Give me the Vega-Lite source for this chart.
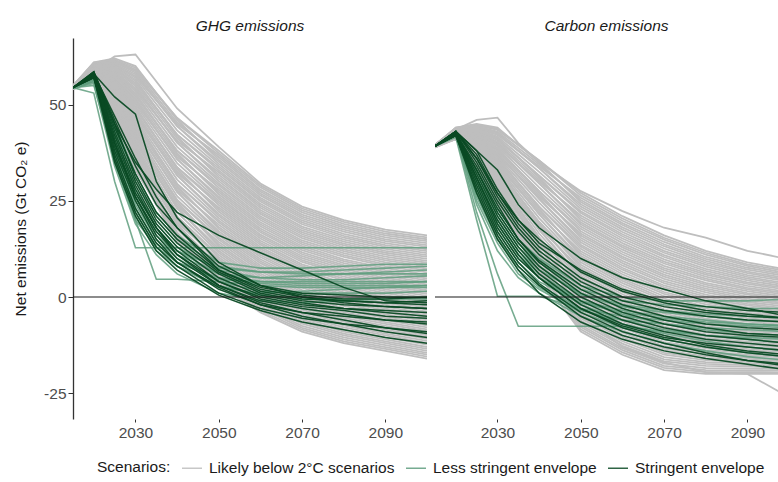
{
"$schema":"https://vega.github.io/schema/vega-lite/v6.json",
"padding":{"left":13,"top":18,"right":0,"bottom":0},
"spacing":6,
"config":{"font":"Liberation Sans","view":{"stroke":null},"mark":{"invalid":"filter"},
"title":{"fontSize":15.5,"fontStyle":"italic","fontWeight":"normal","color":"#1a1a1a","offset":4,"anchor":"middle"},
"axis":{"labelFont":"Liberation Sans","labelFontSize":15.5,"labelColor":"#4d4d4d","titleFont":"Liberation Sans","titleFontSize":15.5,"titleFontWeight":"normal","titleColor":"#1a1a1a","grid":false,"tickColor":"#333333","domainColor":"#333333"},
"legend":{"symbolType":"stroke","symbolSize":400,"symbolStrokeWidth":1.5,"labelFont":"Liberation Sans","titleFont":"Liberation Sans","labelFontSize":15.5,"titleFontSize":15.5,"titleFontWeight":"normal","labelColor":"#1a1a1a","titleColor":"#1a1a1a","columnPadding":8,"labelOffset":6,"titlePadding":10,"labelLimit":300,"titleLimit":200,"titleOrient":"left"}},
"data":{"values":[
{"p":"G","s":"Likely below 2°C scenarios","id":"G0","2015":54.0,"2020":56.0,"2025":46.0,"2030":33.0,"2040":15.1,"2050":5.3,"2060":-1.9,"2070":-6.9,"2080":-10.0,"2090":-12,"2100":-14.0},
{"p":"G","s":"Likely below 2°C scenarios","id":"G1","2015":54.0,"2020":56.2,"2025":46.5,"2030":33.9,"2040":14.5,"2050":3.0,"2060":-4.0,"2070":-9.0,"2080":-12.0,"2090":-14,"2100":-16.0},
{"p":"G","s":"Likely below 2°C scenarios","id":"G2","2015":54.0,"2020":56.3,"2025":47.0,"2030":34.7,"2040":16.7,"2050":6.4,"2060":-0.8,"2070":-5.9,"2080":-9.0,"2090":-11,"2100":-13.0},
{"p":"G","s":"Likely below 2°C scenarios","id":"G3","2015":54.0,"2020":56.5,"2025":47.5,"2030":35.6,"2040":16.1,"2050":4.1,"2060":-2.9,"2070":-8.0,"2080":-11.0,"2090":-13,"2100":-15.0},
{"p":"G","s":"Likely below 2°C scenarios","id":"G4","2015":54.0,"2020":56.6,"2025":48.1,"2030":36.5,"2040":19.3,"2050":9.8,"2060":2.4,"2070":-2.8,"2080":-5.9,"2090":-8,"2100":-9.9},
{"p":"G","s":"Likely below 2°C scenarios","id":"G5","2015":54.0,"2020":56.8,"2025":48.6,"2030":37.4,"2040":18.8,"2050":7.5,"2060":0.3,"2070":-4.9,"2080":-7.9,"2090":-10,"2100":-11.9},
{"p":"G","s":"Likely below 2°C scenarios","id":"G6","2015":54.0,"2020":57.0,"2025":49.1,"2030":38.2,"2040":20.9,"2050":10.9,"2060":3.5,"2070":-1.8,"2080":-4.9,"2090":-7,"2100":-8.9},
{"p":"G","s":"Likely below 2°C scenarios","id":"G7","2015":54.0,"2020":57.1,"2025":49.6,"2030":39.1,"2040":20.4,"2050":8.6,"2060":1.3,"2070":-3.8,"2080":-6.9,"2090":-9,"2100":-10.9},
{"p":"G","s":"Likely below 2°C scenarios","id":"G8","2015":54.3,"2020":57.3,"2025":50.1,"2030":40.0,"2040":23.6,"2050":14.3,"2060":6.7,"2070":1.3,"2080":-1.8,"2090":-4,"2100":-5.8},
{"p":"G","s":"Likely below 2°C scenarios","id":"G9","2015":54.3,"2020":57.4,"2025":50.6,"2030":40.8,"2040":23.1,"2050":12.0,"2060":4.5,"2070":-0.7,"2080":-3.9,"2090":-6,"2100":-7.9},
{"p":"G","s":"Likely below 2°C scenarios","id":"G10","2015":54.3,"2020":57.6,"2025":51.2,"2030":41.7,"2040":25.2,"2050":15.4,"2060":7.7,"2070":2.4,"2080":-0.8,"2090":-3,"2100":-4.8},
{"p":"G","s":"Likely below 2°C scenarios","id":"G11","2015":54.3,"2020":57.8,"2025":51.7,"2030":42.6,"2040":24.7,"2050":13.2,"2060":5.6,"2070":0.3,"2080":-2.9,"2090":-5,"2100":-6.9},
{"p":"G","s":"Likely below 2°C scenarios","id":"G12","2015":54.3,"2020":57.9,"2025":52.2,"2030":43.5,"2040":27.8,"2050":18.8,"2060":10.9,"2070":5.4,"2080":2.2,"2090":0,"2100":-1.8},
{"p":"G","s":"Likely below 2°C scenarios","id":"G13","2015":54.3,"2020":58.1,"2025":52.7,"2030":44.3,"2040":27.3,"2050":16.5,"2060":8.8,"2070":3.4,"2080":0.2,"2090":-2,"2100":-3.8},
{"p":"G","s":"Likely below 2°C scenarios","id":"G14","2015":54.3,"2020":58.3,"2025":53.2,"2030":45.2,"2040":29.4,"2050":19.9,"2060":12.0,"2070":6.5,"2080":3.2,"2090":1,"2100":-0.8},
{"p":"G","s":"Likely below 2°C scenarios","id":"G15","2015":54.3,"2020":58.4,"2025":53.7,"2030":46.1,"2040":28.9,"2050":17.7,"2060":9.8,"2070":4.4,"2080":1.2,"2090":-1,"2100":-2.8},
{"p":"G","s":"Likely below 2°C scenarios","id":"G16","2015":54.6,"2020":58.6,"2025":54.3,"2030":46.9,"2040":32.1,"2050":23.3,"2060":15.2,"2070":9.6,"2080":6.3,"2090":4,"2100":2.3},
{"p":"G","s":"Likely below 2°C scenarios","id":"G17","2015":54.6,"2020":58.7,"2025":54.8,"2030":47.8,"2040":31.6,"2050":21.1,"2060":13.0,"2070":7.5,"2080":4.3,"2090":2,"2100":0.3},
{"p":"G","s":"Likely below 2°C scenarios","id":"G18","2015":54.6,"2020":58.9,"2025":55.3,"2030":48.7,"2040":33.7,"2050":24.5,"2060":16.2,"2070":10.6,"2080":7.3,"2090":5,"2100":3.3},
{"p":"G","s":"Likely below 2°C scenarios","id":"G19","2015":54.6,"2020":59.1,"2025":55.8,"2030":49.5,"2040":33.2,"2050":22.2,"2060":14.1,"2070":8.5,"2080":5.3,"2090":3,"2100":1.3},
{"p":"G","s":"Likely below 2°C scenarios","id":"G20","2015":54.6,"2020":59.2,"2025":56.3,"2030":50.4,"2040":36.4,"2050":27.8,"2060":19.4,"2070":13.7,"2080":10.4,"2090":8,"2100":6.4},
{"p":"G","s":"Likely below 2°C scenarios","id":"G21","2015":54.6,"2020":59.4,"2025":56.8,"2030":51.3,"2040":35.8,"2050":25.6,"2060":17.3,"2070":11.6,"2080":8.3,"2090":6,"2100":4.3},
{"p":"G","s":"Likely below 2°C scenarios","id":"G22","2015":54.6,"2020":59.5,"2025":57.4,"2030":52.2,"2040":38.0,"2050":29.0,"2060":20.5,"2070":14.7,"2080":11.4,"2090":9,"2100":7.4},
{"p":"G","s":"Likely below 2°C scenarios","id":"G23","2015":54.6,"2020":59.7,"2025":57.9,"2030":53.0,"2040":37.4,"2050":26.7,"2060":18.4,"2070":12.7,"2080":9.3,"2090":7,"2100":5.3},
{"p":"G","s":"Likely below 2°C scenarios","id":"G24","2015":54.9,"2020":59.9,"2025":58.4,"2030":53.9,"2040":40.6,"2050":32.4,"2060":23.7,"2070":17.8,"2080":14.4,"2090":12,"2100":10.4},
{"p":"G","s":"Likely below 2°C scenarios","id":"G25","2015":54.9,"2020":60.0,"2025":58.9,"2030":54.8,"2040":40.1,"2050":30.1,"2060":21.6,"2070":15.8,"2080":12.4,"2090":10,"2100":8.4},
{"p":"G","s":"Likely below 2°C scenarios","id":"G26","2015":54.9,"2020":60.2,"2025":59.4,"2030":55.6,"2040":42.2,"2050":33.5,"2060":24.8,"2070":18.9,"2080":15.4,"2090":13,"2100":11.4},
{"p":"G","s":"Likely below 2°C scenarios","id":"G27","2015":54.9,"2020":60.3,"2025":59.9,"2030":56.5,"2040":41.7,"2050":31.2,"2060":22.6,"2070":16.8,"2080":13.4,"2090":11,"2100":9.4},
{"p":"G","s":"Likely below 2°C scenarios","id":"G28","2015":54.9,"2020":60.5,"2025":60.4,"2030":57.4,"2040":44.9,"2050":36.9,"2060":27.9,"2070":22.0,"2080":18.5,"2090":16,"2100":14.5},
{"p":"G","s":"Likely below 2°C scenarios","id":"G29","2015":54.9,"2020":60.7,"2025":61.0,"2030":58.3,"2040":44.4,"2050":34.6,"2060":25.8,"2070":19.9,"2080":16.4,"2090":14,"2100":12.4},
{"p":"G","s":"Likely below 2°C scenarios","id":"G30","2015":54.9,"2020":60.8,"2025":61.5,"2030":59.1,"2040":46.5,"2050":38.0,"2060":29.0,"2070":23.0,"2080":19.5,"2090":17,"2100":15.5},
{"p":"G","s":"Likely below 2°C scenarios","id":"G31","2015":54.9,"2020":61.0,"2025":62.0,"2030":60.0,"2040":46.0,"2050":35.7,"2060":26.9,"2070":20.9,"2080":17.5,"2090":15,"2100":13.5},
{"p":"G","s":"Likely below 2°C scenarios","id":"G32","2015":54.4,"2020":59.0,"2025":62.5,"2030":63.0,"2040":49.0,"2050":39.0,"2060":29.5,"2070":23.5,"2080":20.0,"2090":17.5,"2100":16.0},
{"p":"G","s":"Likely below 2°C scenarios","id":"H0","2015":54.4,"2020":56.1,"2025":46.3,"2030":33.4,"2040":14.5,"2050":3.6,"2060":-3.5,"2070":-8.5,"2080":-11.5,"2090":-13.5,"2100":-15.5},
{"p":"G","s":"Likely below 2°C scenarios","id":"H1","2015":54.4,"2020":56.2,"2025":46.8,"2030":34.3,"2040":15.6,"2050":4.7,"2060":-2.4,"2070":-7.5,"2080":-10.5,"2090":-12.5,"2100":-14.5},
{"p":"G","s":"Likely below 2°C scenarios","id":"H2","2015":54.4,"2020":56.4,"2025":47.3,"2030":35.2,"2040":16.7,"2050":5.8,"2060":-1.3,"2070":-6.4,"2080":-9.5,"2090":-11.5,"2100":-13.5},
{"p":"G","s":"Likely below 2°C scenarios","id":"H3","2015":54.4,"2020":56.6,"2025":47.8,"2030":36.0,"2040":17.7,"2050":7.0,"2060":-0.3,"2070":-5.4,"2080":-8.4,"2090":-10.5,"2100":-12.4},
{"p":"G","s":"Likely below 2°C scenarios","id":"H4","2015":54.4,"2020":56.7,"2025":48.3,"2030":36.9,"2040":18.8,"2050":8.1,"2060":0.8,"2070":-4.4,"2080":-7.4,"2090":-9.5,"2100":-11.4},
{"p":"G","s":"Likely below 2°C scenarios","id":"H5","2015":54.4,"2020":56.9,"2025":48.8,"2030":37.8,"2040":19.9,"2050":9.2,"2060":1.9,"2070":-3.3,"2080":-6.4,"2090":-8.5,"2100":-10.4},
{"p":"G","s":"Likely below 2°C scenarios","id":"H6","2015":54.4,"2020":57.0,"2025":49.4,"2030":38.7,"2040":20.9,"2050":10.3,"2060":2.9,"2070":-2.3,"2080":-5.4,"2090":-7.5,"2100":-9.4},
{"p":"G","s":"Likely below 2°C scenarios","id":"H7","2015":54.4,"2020":57.2,"2025":49.9,"2030":39.5,"2040":22.0,"2050":11.5,"2060":4.0,"2070":-1.3,"2080":-4.4,"2090":-6.5,"2100":-8.4},
{"p":"G","s":"Likely below 2°C scenarios","id":"H8","2015":54.4,"2020":57.4,"2025":50.4,"2030":40.4,"2040":23.1,"2050":12.6,"2060":5.1,"2070":-0.2,"2080":-3.4,"2090":-5.5,"2100":-7.4},
{"p":"G","s":"Likely below 2°C scenarios","id":"H9","2015":54.4,"2020":57.5,"2025":50.9,"2030":41.3,"2040":24.1,"2050":13.7,"2060":6.1,"2070":0.8,"2080":-2.3,"2090":-4.5,"2100":-6.3},
{"p":"G","s":"Likely below 2°C scenarios","id":"H10","2015":54.4,"2020":57.7,"2025":51.4,"2030":42.1,"2040":25.2,"2050":14.9,"2060":7.2,"2070":1.8,"2080":-1.3,"2090":-3.5,"2100":-5.3},
{"p":"G","s":"Likely below 2°C scenarios","id":"H11","2015":54.4,"2020":57.9,"2025":51.9,"2030":43.0,"2040":26.2,"2050":16.0,"2060":8.2,"2070":2.9,"2080":-0.3,"2090":-2.5,"2100":-4.3},
{"p":"G","s":"Likely below 2°C scenarios","id":"H12","2015":54.4,"2020":58.0,"2025":52.5,"2030":43.9,"2040":27.3,"2050":17.1,"2060":9.3,"2070":3.9,"2080":0.7,"2090":-1.5,"2100":-3.3},
{"p":"G","s":"Likely below 2°C scenarios","id":"H13","2015":54.4,"2020":58.2,"2025":53.0,"2030":44.8,"2040":28.4,"2050":18.2,"2060":10.4,"2070":4.9,"2080":1.7,"2090":-0.5,"2100":-2.3},
{"p":"G","s":"Likely below 2°C scenarios","id":"H14","2015":54.4,"2020":58.3,"2025":53.5,"2030":45.6,"2040":29.4,"2050":19.4,"2060":11.4,"2070":6.0,"2080":2.7,"2090":0.5,"2100":-1.3},
{"p":"G","s":"Likely below 2°C scenarios","id":"H15","2015":54.4,"2020":58.5,"2025":54.0,"2030":46.5,"2040":30.5,"2050":20.5,"2060":12.5,"2070":7.0,"2080":3.7,"2090":1.5,"2100":-0.3},
{"p":"G","s":"Likely below 2°C scenarios","id":"H16","2015":54.4,"2020":58.7,"2025":54.5,"2030":47.4,"2040":31.6,"2050":21.6,"2060":13.6,"2070":8.0,"2080":4.8,"2090":2.5,"2100":0.8},
{"p":"G","s":"Likely below 2°C scenarios","id":"H17","2015":54.4,"2020":58.8,"2025":55.0,"2030":48.2,"2040":32.6,"2050":22.8,"2060":14.6,"2070":9.1,"2080":5.8,"2090":3.5,"2100":1.8},
{"p":"G","s":"Likely below 2°C scenarios","id":"H18","2015":54.4,"2020":59.0,"2025":55.5,"2030":49.1,"2040":33.7,"2050":23.9,"2060":15.7,"2070":10.1,"2080":6.8,"2090":4.5,"2100":2.8},
{"p":"G","s":"Likely below 2°C scenarios","id":"H19","2015":54.4,"2020":59.1,"2025":56.1,"2030":50.0,"2040":34.8,"2050":25.0,"2060":16.8,"2070":11.1,"2080":7.8,"2090":5.5,"2100":3.8},
{"p":"G","s":"Likely below 2°C scenarios","id":"H20","2015":54.4,"2020":59.3,"2025":56.6,"2030":50.9,"2040":35.8,"2050":26.1,"2060":17.8,"2070":12.2,"2080":8.8,"2090":6.5,"2100":4.8},
{"p":"G","s":"Likely below 2°C scenarios","id":"H21","2015":54.4,"2020":59.5,"2025":57.1,"2030":51.7,"2040":36.9,"2050":27.3,"2060":18.9,"2070":13.2,"2080":9.8,"2090":7.5,"2100":5.8},
{"p":"G","s":"Likely below 2°C scenarios","id":"H22","2015":54.4,"2020":59.6,"2025":57.6,"2030":52.6,"2040":38.0,"2050":28.4,"2060":20.0,"2070":14.2,"2080":10.9,"2090":8.5,"2100":6.9},
{"p":"G","s":"Likely below 2°C scenarios","id":"H23","2015":54.4,"2020":59.8,"2025":58.1,"2030":53.5,"2040":39.0,"2050":29.5,"2060":21.0,"2070":15.3,"2080":11.9,"2090":9.5,"2100":7.9},
{"p":"G","s":"Likely below 2°C scenarios","id":"H24","2015":54.4,"2020":59.9,"2025":58.6,"2030":54.3,"2040":40.1,"2050":30.7,"2060":22.1,"2070":16.3,"2080":12.9,"2090":10.5,"2100":8.9},
{"p":"G","s":"Likely below 2°C scenarios","id":"H25","2015":54.4,"2020":60.1,"2025":59.2,"2030":55.2,"2040":41.2,"2050":31.8,"2060":23.2,"2070":17.3,"2080":13.9,"2090":11.5,"2100":9.9},
{"p":"G","s":"Likely below 2°C scenarios","id":"H26","2015":54.4,"2020":60.3,"2025":59.7,"2030":56.1,"2040":42.2,"2050":32.9,"2060":24.2,"2070":18.3,"2080":14.9,"2090":12.5,"2100":10.9},
{"p":"G","s":"Likely below 2°C scenarios","id":"H27","2015":54.4,"2020":60.4,"2025":60.2,"2030":57.0,"2040":43.3,"2050":34.0,"2060":25.3,"2070":19.4,"2080":15.9,"2090":13.5,"2100":11.9},
{"p":"G","s":"Likely below 2°C scenarios","id":"H28","2015":54.4,"2020":60.6,"2025":60.7,"2030":57.8,"2040":44.4,"2050":35.2,"2060":26.4,"2070":20.4,"2080":17.0,"2090":14.5,"2100":13.0},
{"p":"G","s":"Likely below 2°C scenarios","id":"H29","2015":54.4,"2020":60.8,"2025":61.2,"2030":58.7,"2040":45.4,"2050":36.3,"2060":27.4,"2070":21.4,"2080":18.0,"2090":15.5,"2100":14.0},
{"p":"G","s":"Likely below 2°C scenarios","id":"H30","2015":54.4,"2020":60.9,"2025":61.7,"2030":59.6,"2040":46.5,"2050":37.4,"2060":28.5,"2070":22.5,"2080":19.0,"2090":16.5,"2100":15.0},
{"p":"G","s":"Less stringent envelope","id":"L1","2015":54.4,"2020":57.5,"2025":40,"2030":25,"2035":16,"2040":11,"2050":6,"2060":5,"2070":5.5,"2080":6,"2090":6.5,"2100":7},
{"p":"G","s":"Less stringent envelope","id":"L2","2015":54.4,"2020":56.5,"2025":35,"2030":20,"2035":13,"2040":9,"2050":5,"2060":3.5,"2070":3,"2080":3,"2090":3,"2100":3},
{"p":"G","s":"Less stringent envelope","id":"L3","2015":54.4,"2020":57,"2025":42,"2030":28,"2035":19,"2040":13,"2050":7,"2060":5,"2070":4.5,"2080":4.5,"2090":5,"2100":5.5},
{"p":"G","s":"Less stringent envelope","id":"L4","2015":54.4,"2020":53,"2025":30,"2030":12.8,"2035":12.8,"2040":12.8,"2050":12.8,"2060":12.8,"2070":12.8,"2080":12.8,"2090":12.8,"2100":12.8},
{"p":"G","s":"Less stringent envelope","id":"L5","2015":54.4,"2020":55,"2025":36,"2030":20,"2035":4.6,"2040":4.6,"2050":4,"2060":3,"2070":2.5,"2080":2.5,"2090":2.5,"2100":2.5},
{"p":"G","s":"Less stringent envelope","id":"L6","2015":54.4,"2020":57,"2025":39,"2030":24,"2035":15,"2040":10,"2050":4,"2060":1.5,"2070":1,"2080":1,"2090":1,"2100":1.5},
{"p":"G","s":"Less stringent envelope","id":"L7","2015":54.4,"2020":56,"2025":37,"2030":22,"2035":13,"2040":8,"2050":3,"2060":0.5,"2070":-0.5,"2080":-0.5,"2090":0,"2100":0},
{"p":"G","s":"Less stringent envelope","id":"L8","2015":54.4,"2020":57.5,"2025":44,"2030":30,"2035":21,"2040":15,"2050":8,"2060":6.5,"2070":6.5,"2080":7,"2090":7.5,"2100":8},
{"p":"G","s":"Less stringent envelope","id":"L9","2015":54.4,"2020":56.5,"2025":41,"2030":26,"2035":17,"2040":12,"2050":7.5,"2060":6.5,"2070":6,"2080":6,"2090":6,"2100":6},
{"p":"G","s":"Less stringent envelope","id":"L10","2015":54.4,"2020":57,"2025":36,"2030":21,"2035":12,"2040":8,"2050":2.5,"2060":1,"2070":1.5,"2080":2,"2090":2.5,"2100":3},
{"p":"G","s":"Less stringent envelope","id":"L11","2015":54.4,"2020":55.5,"2025":34,"2030":19,"2035":11,"2040":6,"2050":1,"2060":-1,"2070":-1.5,"2080":-1,"2090":-0.5,"2100":-0.5},
{"p":"G","s":"Less stringent envelope","id":"L12","2015":54.4,"2020":58,"2025":45,"2030":32,"2035":22,"2040":16,"2050":9,"2060":7.5,"2070":7.5,"2080":8,"2090":8.5,"2100":8.5},
{"p":"G","s":"Less stringent envelope","id":"L13","2015":54.4,"2020":56,"2025":38,"2030":23,"2035":14,"2040":9,"2050":4.5,"2060":4,"2070":4,"2080":4,"2090":4,"2100":4},
{"p":"G","s":"Less stringent envelope","id":"L14","2015":54.4,"2020":57,"2025":43,"2030":27,"2035":18,"2040":12,"2050":6,"2060":4,"2070":3.5,"2080":3.5,"2090":3.5,"2100":4},
{"p":"G","s":"Stringent envelope","id":"D1","2015":54.4,"2020":58,"2025":44,"2030":32,"2035":22,"2040":16,"2050":7,"2060":2,"2070":0,"2080":-1,"2090":-1.5,"2100":-2},
{"p":"G","s":"Stringent envelope","id":"D2","2015":54.4,"2020":57.5,"2025":40,"2030":27,"2035":18,"2040":12,"2050":4,"2060":0,"2070":-2,"2080":-3,"2090":-3.5,"2100":-4},
{"p":"G","s":"Stringent envelope","id":"D3","2015":54.4,"2020":58.5,"2025":46,"2030":34,"2035":24,"2040":18,"2050":8,"2060":3,"2070":1,"2080":0.5,"2090":0,"2100":-0.2},
{"p":"G","s":"Stringent envelope","id":"D4","2015":54.4,"2020":57,"2025":38,"2030":25,"2035":15,"2040":9,"2050":2,"2060":-2,"2070":-4,"2080":-5,"2090":-6,"2100":-6.5},
{"p":"G","s":"Stringent envelope","id":"D5","2015":54.4,"2020":58,"2025":42,"2030":29,"2035":19,"2040":13,"2050":5,"2060":0.5,"2070":-1.5,"2080":-3,"2090":-4,"2100":-5},
{"p":"G","s":"Stringent envelope","id":"D6","2015":54.4,"2020":57.5,"2025":36,"2030":22,"2035":13,"2040":8,"2050":1,"2060":-3,"2070":-5.5,"2080":-7,"2090":-8,"2100":-9},
{"p":"G","s":"Stringent envelope","id":"D7","2015":54.4,"2020":58,"2025":52,"2030":47.5,"2035":30,"2040":20.6,"2050":9,"2060":3,"2070":0,"2080":-1.5,"2090":-2.5,"2100":-3},
{"p":"G","s":"Stringent envelope","id":"D8","2015":54.4,"2020":58.5,"2025":45,"2030":35,"2035":28,"2040":22,"2050":16,"2060":11.5,"2070":7,"2080":2.5,"2090":-1,"2100":-1.5},
{"p":"G","s":"Stringent envelope","id":"D9","2015":54.4,"2020":57,"2025":39,"2030":26,"2035":16,"2040":10,"2050":3,"2060":-1,"2070":-3,"2080":-4.5,"2090":-6,"2100":-7},
{"p":"G","s":"Stringent envelope","id":"D10","2015":54.4,"2020":58,"2025":43,"2030":30,"2035":20,"2040":14,"2050":6,"2060":1,"2070":-1,"2080":-2,"2090":-2.5,"2100":-3},
{"p":"G","s":"Stringent envelope","id":"D11","2015":54.4,"2020":57.5,"2025":37,"2030":23,"2035":14,"2040":9,"2050":2.5,"2060":-2,"2070":-5,"2080":-7,"2090":-9,"2100":-10.5},
{"p":"G","s":"Stringent envelope","id":"D12","2015":54.4,"2020":58.5,"2025":41,"2030":28,"2035":18,"2040":11,"2050":3,"2060":-1.5,"2070":-4,"2080":-6,"2090":-8,"2100":-9.5},
{"p":"G","s":"Stringent envelope","id":"D13","2015":54.4,"2020":57,"2025":35,"2030":21,"2035":12,"2040":7,"2050":0.5,"2060":-3.5,"2070":-6.5,"2080":-8.5,"2090":-10.5,"2100":-12},
{"p":"G","s":"Stringent envelope","id":"D14","2015":54.4,"2020":58,"2025":45,"2030":31,"2035":21,"2040":15,"2050":6.5,"2060":1.5,"2070":-0.5,"2080":-1,"2090":-1.5,"2100":-1},
{"p":"G","s":"Stringent envelope","id":"D15","2015":54.4,"2020":57.5,"2025":40,"2030":26,"2035":17,"2040":11,"2050":4,"2060":-0.5,"2070":-2.5,"2080":-3.5,"2090":-5,"2100":-5.5},
{"p":"G","s":"Stringent envelope","id":"D16","2015":54.4,"2020":58,"2025":47,"2030":36,"2035":26,"2040":18,"2050":7,"2060":2.5,"2070":0.5,"2080":-0.5,"2090":-0.5,"2100":0},
{"p":"C","s":"Likely below 2°C scenarios","id":"C0","2015":38.9,"2020":41.0,"2025":33.0,"2030":24.0,"2040":6.0,"2050":-6.7,"2060":-12.7,"2070":-16.7,"2080":-17.9,"2090":-18.1,"2100":-18.3},
{"p":"C","s":"Likely below 2°C scenarios","id":"C1","2015":38.9,"2020":41.1,"2025":33.4,"2030":24.6,"2040":5.5,"2050":-9.0,"2060":-15.0,"2070":-19.0,"2080":-20.0,"2090":-20.0,"2100":-20.0},
{"p":"C","s":"Likely below 2°C scenarios","id":"C2","2015":38.9,"2020":41.2,"2025":33.8,"2030":25.3,"2040":7.5,"2050":-5.5,"2060":-11.5,"2070":-15.6,"2080":-16.9,"2090":-17.2,"2100":-17.4},
{"p":"C","s":"Likely below 2°C scenarios","id":"C3","2015":38.9,"2020":41.3,"2025":34.2,"2030":25.9,"2040":7.0,"2050":-7.8,"2060":-13.8,"2070":-17.9,"2080":-19.0,"2090":-19.1,"2100":-19.1},
{"p":"C","s":"Likely below 2°C scenarios","id":"C4","2015":38.9,"2020":41.4,"2025":34.5,"2030":26.6,"2040":10.0,"2050":-2.0,"2060":-8.0,"2070":-12.2,"2080":-13.8,"2090":-14.4,"2100":-14.8},
{"p":"C","s":"Likely below 2°C scenarios","id":"C5","2015":38.9,"2020":41.5,"2025":34.9,"2030":27.2,"2040":9.5,"2050":-4.4,"2060":-10.4,"2070":-14.5,"2080":-15.9,"2090":-16.3,"2100":-16.5},
{"p":"C","s":"Likely below 2°C scenarios","id":"C6","2015":38.9,"2020":41.6,"2025":35.3,"2030":27.9,"2040":11.5,"2050":-0.9,"2060":-6.9,"2070":-11.1,"2080":-12.8,"2090":-13.5,"2100":-13.9},
{"p":"C","s":"Likely below 2°C scenarios","id":"C7","2015":38.9,"2020":41.7,"2025":35.7,"2030":28.5,"2040":11.0,"2050":-3.2,"2060":-9.2,"2070":-13.4,"2080":-14.8,"2090":-15.3,"2100":-15.6},
{"p":"C","s":"Likely below 2°C scenarios","id":"C8","2015":39.1,"2020":41.8,"2025":36.1,"2030":29.2,"2040":14.0,"2050":2.6,"2060":-3.4,"2070":-7.7,"2080":-9.7,"2090":-10.7,"2100":-11.3},
{"p":"C","s":"Likely below 2°C scenarios","id":"C9","2015":39.1,"2020":41.9,"2025":36.5,"2030":29.8,"2040":13.5,"2050":0.3,"2060":-5.7,"2070":-10.0,"2080":-11.7,"2090":-12.5,"2100":-13.0},
{"p":"C","s":"Likely below 2°C scenarios","id":"C10","2015":39.1,"2020":42.0,"2025":36.9,"2030":30.5,"2040":15.5,"2050":3.8,"2060":-2.2,"2070":-6.6,"2080":-8.6,"2090":-9.7,"2100":-10.4},
{"p":"C","s":"Likely below 2°C scenarios","id":"C11","2015":39.1,"2020":42.1,"2025":37.3,"2030":31.1,"2040":15.0,"2050":1.4,"2060":-4.6,"2070":-8.8,"2080":-10.7,"2090":-11.6,"2100":-12.2},
{"p":"C","s":"Likely below 2°C scenarios","id":"C12","2015":39.1,"2020":42.2,"2025":37.6,"2030":31.7,"2040":18.0,"2050":7.3,"2060":1.3,"2070":-3.2,"2080":-5.6,"2090":-6.9,"2100":-7.8},
{"p":"C","s":"Likely below 2°C scenarios","id":"C13","2015":39.1,"2020":42.3,"2025":38.0,"2030":32.4,"2040":17.5,"2050":4.9,"2060":-1.1,"2070":-5.5,"2080":-7.6,"2090":-8.8,"2100":-9.5},
{"p":"C","s":"Likely below 2°C scenarios","id":"C14","2015":39.1,"2020":42.4,"2025":38.4,"2030":33.0,"2040":19.5,"2050":8.4,"2060":2.4,"2070":-2.1,"2080":-4.5,"2090":-6.0,"2100":-6.9},
{"p":"C","s":"Likely below 2°C scenarios","id":"C15","2015":39.1,"2020":42.5,"2025":38.8,"2030":33.7,"2040":19.0,"2050":6.1,"2060":0.1,"2070":-4.3,"2080":-6.6,"2090":-7.8,"2100":-8.7},
{"p":"C","s":"Likely below 2°C scenarios","id":"C16","2015":39.3,"2020":42.6,"2025":39.2,"2030":34.3,"2040":22.0,"2050":11.9,"2060":5.9,"2070":1.3,"2080":-1.4,"2090":-3.2,"2100":-4.3},
{"p":"C","s":"Likely below 2°C scenarios","id":"C17","2015":39.3,"2020":42.6,"2025":39.6,"2030":35.0,"2040":21.5,"2050":9.6,"2060":3.6,"2070":-0.9,"2080":-3.5,"2090":-5.0,"2100":-6.1},
{"p":"C","s":"Likely below 2°C scenarios","id":"C18","2015":39.3,"2020":42.7,"2025":40.0,"2030":35.6,"2040":23.5,"2050":13.1,"2060":7.1,"2070":2.5,"2080":-0.4,"2090":-2.2,"2100":-3.5},
{"p":"C","s":"Likely below 2°C scenarios","id":"C19","2015":39.3,"2020":42.8,"2025":40.4,"2030":36.3,"2040":23.0,"2050":10.7,"2060":4.7,"2070":0.2,"2080":-2.5,"2090":-4.1,"2100":-5.2},
{"p":"C","s":"Likely below 2°C scenarios","id":"C20","2015":39.3,"2020":42.9,"2025":40.7,"2030":36.9,"2040":26.0,"2050":16.5,"2060":10.5,"2070":5.8,"2080":2.7,"2090":0.6,"2100":-0.8},
{"p":"C","s":"Likely below 2°C scenarios","id":"C21","2015":39.3,"2020":43.0,"2025":41.1,"2030":37.5,"2040":25.5,"2050":14.2,"2060":8.2,"2070":3.6,"2080":0.6,"2090":-1.3,"2100":-2.6},
{"p":"C","s":"Likely below 2°C scenarios","id":"C22","2015":39.3,"2020":43.1,"2025":41.5,"2030":38.2,"2040":27.5,"2050":17.7,"2060":11.7,"2070":7.0,"2080":3.7,"2090":1.5,"2100":0.0},
{"p":"C","s":"Likely below 2°C scenarios","id":"C23","2015":39.3,"2020":43.2,"2025":41.9,"2030":38.8,"2040":27.0,"2050":15.4,"2060":9.4,"2070":4.7,"2080":1.7,"2090":-0.4,"2100":-1.7},
{"p":"C","s":"Likely below 2°C scenarios","id":"C24","2015":39.5,"2020":43.3,"2025":42.3,"2030":39.5,"2040":30.0,"2050":21.2,"2060":15.2,"2070":10.4,"2080":6.8,"2090":4.3,"2100":2.6},
{"p":"C","s":"Likely below 2°C scenarios","id":"C25","2015":39.5,"2020":43.4,"2025":42.7,"2030":40.1,"2040":29.5,"2050":18.9,"2060":12.9,"2070":8.1,"2080":4.8,"2090":2.4,"2100":0.9},
{"p":"C","s":"Likely below 2°C scenarios","id":"C26","2015":39.5,"2020":43.5,"2025":43.1,"2030":40.8,"2040":31.5,"2050":22.3,"2060":16.3,"2070":11.5,"2080":7.9,"2090":5.2,"2100":3.5},
{"p":"C","s":"Likely below 2°C scenarios","id":"C27","2015":39.5,"2020":43.6,"2025":43.5,"2030":41.4,"2040":31.0,"2050":20.0,"2060":14.0,"2070":9.2,"2080":5.8,"2090":3.4,"2100":1.8},
{"p":"C","s":"Likely below 2°C scenarios","id":"C28","2015":39.5,"2020":43.7,"2025":43.8,"2030":42.1,"2040":34.0,"2050":25.8,"2060":19.8,"2070":14.9,"2080":11.0,"2090":8.1,"2100":6.1},
{"p":"C","s":"Likely below 2°C scenarios","id":"C29","2015":39.5,"2020":43.8,"2025":44.2,"2030":42.7,"2040":33.5,"2050":23.5,"2060":17.5,"2070":12.6,"2080":8.9,"2090":6.2,"2100":4.4},
{"p":"C","s":"Likely below 2°C scenarios","id":"C30","2015":39.5,"2020":43.9,"2025":44.6,"2030":43.4,"2040":35.5,"2050":27.0,"2060":21.0,"2070":16.0,"2080":12.0,"2090":9.0,"2100":7.0},
{"p":"C","s":"Likely below 2°C scenarios","id":"C31","2015":39.5,"2020":44.0,"2025":45.0,"2030":44.0,"2040":35.0,"2050":24.7,"2060":18.7,"2070":13.7,"2080":9.9,"2090":7.1,"2100":5.3},
{"p":"C","s":"Likely below 2°C scenarios","id":"C32","2015":39.2,"2020":43.5,"2025":46.0,"2030":46.6,"2035":40.0,"2040":35.0,"2050":27.5,"2060":22.3,"2070":18.0,"2080":15.4,"2090":12.0,"2100":9.8},
{"p":"C","s":"Likely below 2°C scenarios","id":"C33","2015":39.2,"2020":41.0,"2025":33.0,"2030":25.0,"2040":8.0,"2050":-5.0,"2060":-13.0,"2070":-17.0,"2080":-19.5,"2090":-20.0,"2100":-26.0},
{"p":"C","s":"Likely below 2°C scenarios","id":"K0","2015":39.2,"2020":41.0,"2025":33.2,"2030":24.3,"2040":5.5,"2050":-8.4,"2060":-14.4,"2070":-18.4,"2080":-19.5,"2090":-19.5,"2100":-19.6},
{"p":"C","s":"Likely below 2°C scenarios","id":"K1","2015":39.2,"2020":41.1,"2025":33.6,"2030":25.0,"2040":6.5,"2050":-7.3,"2060":-13.3,"2070":-17.3,"2080":-18.5,"2090":-18.6,"2100":-18.7},
{"p":"C","s":"Likely below 2°C scenarios","id":"K2","2015":39.2,"2020":41.2,"2025":34.0,"2030":25.6,"2040":7.5,"2050":-6.1,"2060":-12.1,"2070":-16.2,"2080":-17.4,"2090":-17.7,"2100":-17.8},
{"p":"C","s":"Likely below 2°C scenarios","id":"K3","2015":39.2,"2020":41.3,"2025":34.4,"2030":26.3,"2040":8.5,"2050":-4.9,"2060":-10.9,"2070":-15.0,"2080":-16.4,"2090":-16.7,"2100":-17.0},
{"p":"C","s":"Likely below 2°C scenarios","id":"K4","2015":39.2,"2020":41.4,"2025":34.7,"2030":26.9,"2040":9.5,"2050":-3.8,"2060":-9.8,"2070":-13.9,"2080":-15.4,"2090":-15.8,"2100":-16.1},
{"p":"C","s":"Likely below 2°C scenarios","id":"K5","2015":39.2,"2020":41.5,"2025":35.1,"2030":27.5,"2040":10.5,"2050":-2.6,"2060":-8.6,"2070":-12.8,"2080":-14.3,"2090":-14.9,"2100":-15.2},
{"p":"C","s":"Likely below 2°C scenarios","id":"K6","2015":39.2,"2020":41.6,"2025":35.5,"2030":28.2,"2040":11.5,"2050":-1.5,"2060":-7.5,"2070":-11.7,"2080":-13.3,"2090":-13.9,"2100":-14.3},
{"p":"C","s":"Likely below 2°C scenarios","id":"K7","2015":39.2,"2020":41.7,"2025":35.9,"2030":28.8,"2040":12.5,"2050":-0.3,"2060":-6.3,"2070":-10.5,"2080":-12.3,"2090":-13.0,"2100":-13.5},
{"p":"C","s":"Likely below 2°C scenarios","id":"K8","2015":39.2,"2020":41.8,"2025":36.3,"2030":29.5,"2040":13.5,"2050":0.9,"2060":-5.1,"2070":-9.4,"2080":-11.2,"2090":-12.1,"2100":-12.6},
{"p":"C","s":"Likely below 2°C scenarios","id":"K9","2015":39.2,"2020":41.9,"2025":36.7,"2030":30.1,"2040":14.5,"2050":2.0,"2060":-4.0,"2070":-8.3,"2080":-10.2,"2090":-11.1,"2100":-11.7},
{"p":"C","s":"Likely below 2°C scenarios","id":"K10","2015":39.2,"2020":42.0,"2025":37.1,"2030":30.8,"2040":15.5,"2050":3.2,"2060":-2.8,"2070":-7.1,"2080":-9.2,"2090":-10.2,"2100":-10.9},
{"p":"C","s":"Likely below 2°C scenarios","id":"K11","2015":39.2,"2020":42.1,"2025":37.5,"2030":31.4,"2040":16.5,"2050":4.4,"2060":-1.6,"2070":-6.0,"2080":-8.1,"2090":-9.2,"2100":-10.0},
{"p":"C","s":"Likely below 2°C scenarios","id":"K12","2015":39.2,"2020":42.2,"2025":37.8,"2030":32.1,"2040":17.5,"2050":5.5,"2060":-0.5,"2070":-4.9,"2080":-7.1,"2090":-8.3,"2100":-9.1},
{"p":"C","s":"Likely below 2°C scenarios","id":"K13","2015":39.2,"2020":42.3,"2025":38.2,"2030":32.7,"2040":18.5,"2050":6.7,"2060":0.7,"2070":-3.8,"2080":-6.1,"2090":-7.4,"2100":-8.2},
{"p":"C","s":"Likely below 2°C scenarios","id":"K14","2015":39.2,"2020":42.4,"2025":38.6,"2030":33.4,"2040":19.5,"2050":7.8,"2060":1.8,"2070":-2.6,"2080":-5.0,"2090":-6.4,"2100":-7.4},
{"p":"C","s":"Likely below 2°C scenarios","id":"K15","2015":39.2,"2020":42.5,"2025":39.0,"2030":34.0,"2040":20.5,"2050":9.0,"2060":3.0,"2070":-1.5,"2080":-4.0,"2090":-5.5,"2100":-6.5},
{"p":"C","s":"Likely below 2°C scenarios","id":"K16","2015":39.2,"2020":42.6,"2025":39.4,"2030":34.6,"2040":21.5,"2050":10.2,"2060":4.2,"2070":-0.4,"2080":-3.0,"2090":-4.6,"2100":-5.6},
{"p":"C","s":"Likely below 2°C scenarios","id":"K17","2015":39.2,"2020":42.7,"2025":39.8,"2030":35.3,"2040":22.5,"2050":11.3,"2060":5.3,"2070":0.8,"2080":-1.9,"2090":-3.6,"2100":-4.8},
{"p":"C","s":"Likely below 2°C scenarios","id":"K18","2015":39.2,"2020":42.8,"2025":40.2,"2030":35.9,"2040":23.5,"2050":12.5,"2060":6.5,"2070":1.9,"2080":-0.9,"2090":-2.7,"2100":-3.9},
{"p":"C","s":"Likely below 2°C scenarios","id":"K19","2015":39.2,"2020":42.9,"2025":40.5,"2030":36.6,"2040":24.5,"2050":13.6,"2060":7.6,"2070":3.0,"2080":0.1,"2090":-1.8,"2100":-3.0},
{"p":"C","s":"Likely below 2°C scenarios","id":"K20","2015":39.2,"2020":43.0,"2025":40.9,"2030":37.2,"2040":25.5,"2050":14.8,"2060":8.8,"2070":4.1,"2080":1.2,"2090":-0.8,"2100":-2.1},
{"p":"C","s":"Likely below 2°C scenarios","id":"K21","2015":39.2,"2020":43.1,"2025":41.3,"2030":37.9,"2040":26.5,"2050":16.0,"2060":10.0,"2070":5.3,"2080":2.2,"2090":0.1,"2100":-1.3},
{"p":"C","s":"Likely below 2°C scenarios","id":"K22","2015":39.2,"2020":43.2,"2025":41.7,"2030":38.5,"2040":27.5,"2050":17.1,"2060":11.1,"2070":6.4,"2080":3.2,"2090":1.0,"2100":-0.4},
{"p":"C","s":"Likely below 2°C scenarios","id":"K23","2015":39.2,"2020":43.3,"2025":42.1,"2030":39.2,"2040":28.5,"2050":18.3,"2060":12.3,"2070":7.5,"2080":4.3,"2090":2.0,"2100":0.5},
{"p":"C","s":"Likely below 2°C scenarios","id":"K24","2015":39.2,"2020":43.4,"2025":42.5,"2030":39.8,"2040":29.5,"2050":19.4,"2060":13.4,"2070":8.7,"2080":5.3,"2090":2.9,"2100":1.3},
{"p":"C","s":"Likely below 2°C scenarios","id":"K25","2015":39.2,"2020":43.5,"2025":42.9,"2030":40.4,"2040":30.5,"2050":20.6,"2060":14.6,"2070":9.8,"2080":6.3,"2090":3.8,"2100":2.2},
{"p":"C","s":"Likely below 2°C scenarios","id":"K26","2015":39.2,"2020":43.6,"2025":43.3,"2030":41.1,"2040":31.5,"2050":21.8,"2060":15.8,"2070":10.9,"2080":7.3,"2090":4.8,"2100":3.1},
{"p":"C","s":"Likely below 2°C scenarios","id":"K27","2015":39.2,"2020":43.7,"2025":43.6,"2030":41.7,"2040":32.5,"2050":22.9,"2060":16.9,"2070":12.0,"2080":8.4,"2090":5.7,"2100":4.0},
{"p":"C","s":"Likely below 2°C scenarios","id":"K28","2015":39.2,"2020":43.8,"2025":44.0,"2030":42.4,"2040":33.5,"2050":24.1,"2060":18.1,"2070":13.2,"2080":9.4,"2090":6.6,"2100":4.8},
{"p":"C","s":"Likely below 2°C scenarios","id":"K29","2015":39.2,"2020":43.9,"2025":44.4,"2030":43.0,"2040":34.5,"2050":25.2,"2060":19.2,"2070":14.3,"2080":10.4,"2090":7.6,"2100":5.7},
{"p":"C","s":"Likely below 2°C scenarios","id":"K30","2015":39.2,"2020":44.0,"2025":44.8,"2030":43.7,"2040":35.5,"2050":26.4,"2060":20.4,"2070":15.4,"2080":11.5,"2090":8.5,"2100":6.6},
{"p":"C","s":"Less stringent envelope","id":"LC1","2015":39.2,"2020":42.5,"2025":30,"2030":20,"2035":12,"2040":7,"2050":1,"2060":-2,"2070":-3.5,"2080":-4.5,"2090":-5,"2100":-5.5},
{"p":"C","s":"Less stringent envelope","id":"LC2","2015":39.2,"2020":42,"2025":27,"2030":17,"2035":9,"2040":4,"2050":-1.5,"2060":-4,"2070":-5.5,"2080":-6.5,"2090":-7,"2100":-7.5},
{"p":"C","s":"Less stringent envelope","id":"LC3","2015":39.2,"2020":43,"2025":32,"2030":22,"2035":14,"2040":9,"2050":2,"2060":-1,"2070":-2,"2080":-2.5,"2090":-3,"2100":-3},
{"p":"C","s":"Less stringent envelope","id":"LC4","2015":39.2,"2020":42,"2025":22,"2030":6,"2035":-7.6,"2040":-7.6,"2050":-7.6,"2060":-7.6,"2070":-9,"2080":-10,"2090":-10.5,"2100":-11},
{"p":"C","s":"Less stringent envelope","id":"LC5","2015":39.2,"2020":41.5,"2025":20,"2030":0.2,"2035":0.2,"2040":0.2,"2050":-3,"2060":-5,"2070":-6,"2080":-7,"2090":-7.5,"2100":-8},
{"p":"C","s":"Less stringent envelope","id":"LC6","2015":39.2,"2020":42.5,"2025":28,"2030":18,"2035":10,"2040":5,"2050":-2,"2060":-6,"2070":-8.5,"2080":-10,"2090":-11,"2100":-12},
{"p":"C","s":"Less stringent envelope","id":"LC7","2015":39.2,"2020":42,"2025":25,"2030":14,"2035":6,"2040":2,"2050":-4,"2060":-8,"2070":-11,"2080":-13,"2090":-14.5,"2100":-15.5},
{"p":"C","s":"Less stringent envelope","id":"LC8","2015":39.2,"2020":43,"2025":31,"2030":21,"2035":13,"2040":8,"2050":0.5,"2060":-2.5,"2070":-4,"2080":-5,"2090":-6,"2100":-6.5},
{"p":"C","s":"Less stringent envelope","id":"LC9","2015":39.2,"2020":42.5,"2025":29,"2030":19,"2035":11,"2040":6,"2050":-1,"2060":-4.5,"2070":-7,"2080":-8.5,"2090":-9.5,"2100":-10},
{"p":"C","s":"Less stringent envelope","id":"LC10","2015":39.2,"2020":42,"2025":26,"2030":15,"2035":8,"2040":3,"2050":-3,"2060":-7,"2070":-9.5,"2080":-11.5,"2090":-13,"2100":-14},
{"p":"C","s":"Less stringent envelope","id":"LC11","2015":39.2,"2020":43,"2025":33,"2030":23,"2035":15,"2040":10,"2050":3,"2060":0,"2070":-1,"2080":-1,"2090":-1,"2100":-0.5},
{"p":"C","s":"Less stringent envelope","id":"LC12","2015":39.2,"2020":42.5,"2025":27,"2030":16,"2035":7,"2040":2.5,"2050":-3.5,"2060":-6,"2070":-7,"2080":-8,"2090":-8.5,"2100":-9},
{"p":"C","s":"Less stringent envelope","id":"LC13","2015":39.2,"2020":42,"2025":24,"2030":12,"2035":5,"2040":1,"2050":-5,"2060":-9,"2070":-12,"2080":-14,"2090":-15.5,"2100":-16.5},
{"p":"C","s":"Less stringent envelope","id":"LC14","2015":39.2,"2020":43,"2025":30,"2030":19,"2035":11,"2040":5,"2050":-1,"2060":-3.5,"2070":-5,"2080":-6,"2090":-7,"2100":-7.5},
{"p":"C","s":"Stringent envelope","id":"DC1","2015":39.2,"2020":43,"2025":36,"2030":26,"2035":18,"2040":12,"2050":4,"2060":-1,"2070":-3.5,"2080":-5,"2090":-6,"2100":-6.5},
{"p":"C","s":"Stringent envelope","id":"DC2","2015":39.2,"2020":42.5,"2025":33,"2030":22,"2035":14,"2040":8,"2050":0,"2060":-5,"2070":-8,"2080":-10,"2090":-11,"2100":-12},
{"p":"C","s":"Stringent envelope","id":"DC3","2015":39.2,"2020":43,"2025":38,"2030":28,"2035":20,"2040":15,"2050":6.5,"2060":1.5,"2070":-1.5,"2080":-3.5,"2090":-4.5,"2100":-5.5},
{"p":"C","s":"Stringent envelope","id":"DC4","2015":39.2,"2020":42,"2025":30,"2030":18,"2035":10,"2040":5,"2050":-3,"2060":-8,"2070":-11,"2080":-13,"2090":-14.5,"2100":-15.5},
{"p":"C","s":"Stringent envelope","id":"DC5","2015":39.2,"2020":42.5,"2025":34,"2030":24,"2035":15,"2040":9,"2050":1,"2060":-4,"2070":-7,"2080":-9,"2090":-10,"2100":-10.5},
{"p":"C","s":"Stringent envelope","id":"DC6","2015":39.2,"2020":42,"2025":28,"2030":16,"2035":8,"2040":3,"2050":-5,"2060":-10,"2070":-13,"2080":-15,"2090":-16.5,"2100":-17.5},
{"p":"C","s":"Stringent envelope","id":"DC7","2015":39.2,"2020":43,"2025":38,"2030":33,"2035":24,"2040":18,"2050":10,"2060":5,"2070":2,"2080":-1,"2090":-3,"2100":-5},
{"p":"C","s":"Stringent envelope","id":"DC8","2015":39.2,"2020":42.5,"2025":31,"2030":20,"2035":12,"2040":6,"2050":-2,"2060":-7,"2070":-10,"2080":-12.5,"2090":-14,"2100":-15},
{"p":"C","s":"Stringent envelope","id":"DC9","2015":39.2,"2020":43,"2025":35,"2030":25,"2035":17,"2040":11,"2050":3,"2060":-2,"2070":-5,"2080":-7,"2090":-8,"2100":-8.5},
{"p":"C","s":"Stringent envelope","id":"DC10","2015":39.2,"2020":42,"2025":29,"2030":17,"2035":9,"2040":3.5,"2050":-4,"2060":-9,"2070":-12,"2080":-14.5,"2090":-16.5,"2100":-18},
{"p":"C","s":"Stringent envelope","id":"DC11","2015":39.2,"2020":42.5,"2025":32,"2030":21,"2035":13,"2040":7,"2050":-1,"2060":-6,"2070":-9,"2080":-11,"2090":-12,"2100":-13},
{"p":"C","s":"Stringent envelope","id":"DC12","2015":39.2,"2020":43,"2025":37,"2030":27,"2035":19,"2040":13,"2050":5,"2060":0,"2070":-2.5,"2080":-4,"2090":-5,"2100":-5.5},
{"p":"C","s":"Stringent envelope","id":"DC13","2015":39.2,"2020":42,"2025":27,"2030":15,"2035":7,"2040":1,"2050":-6.5,"2060":-11,"2070":-14,"2080":-16,"2090":-17.5,"2100":-19},
{"p":"C","s":"Stringent envelope","id":"DC14","2015":39.2,"2020":42.5,"2025":33,"2030":23,"2035":15,"2040":9.5,"2050":2,"2060":-3,"2070":-6,"2080":-8,"2090":-9.5,"2100":-10},
{"p":"C","s":"Stringent envelope","id":"DC15","2015":39.2,"2020":43,"2025":36,"2030":27,"2035":20,"2040":14,"2050":7,"2060":2,"2070":-1,"2080":-2.5,"2090":-3.5,"2100":-4},
{"p":"C","s":"Stringent envelope","id":"DC16","2015":39.2,"2020":42,"2025":31,"2030":19,"2035":11,"2040":5,"2050":-3,"2060":-7.5,"2070":-10.5,"2080":-12,"2090":-13,"2100":-14}
]},
"hconcat":[
{"width":354,"height":381,"title":"GHG emissions",
"layer":[
{"transform":[{"filter":"datum.p==='G'"},{"fold":["2015","2020","2025","2030","2035","2040","2050","2060","2070","2080","2090","2100"],"as":["year","v"]}],
"encoding":{
"x":{"field":"year","type":"quantitative","scale":{"domain":[2015,2100],"nice":false,"zero":false},"axis":{"values":[2030,2050,2070,2090],"format":"d","title":null,"domain":false,"tickSize":3,"labelPadding":3}},
"y":{"field":"v","type":"quantitative","scale":{"domain":[-31.7,67.3],"nice":false,"zero":false},"axis":{"values":[-25,0,25,50],"labelExpr":"replace(datum.label, '−', '-')","title":"Net emissions (Gt CO₂ e)","tickSize":5,"labelPadding":2,"titlePadding":15,"domainWidth":1.3}},
"color":{"field":"s","type":"nominal","scale":{"domain":["Likely below 2°C scenarios","Less stringent envelope","Stringent envelope"],"range":["#bebebe","#5f9d7e","#0a4a24"]},"legend":{"title":"Scenarios:","orient":"none","legendX":24,"legendY":419,"direction":"horizontal"}},
"detail":{"field":"id","type":"nominal"}},
"layer":[
{"transform":[{"filter":"datum.s==='Likely below 2°C scenarios'"}],"mark":{"type":"line","strokeWidth":1.8,"clip":true,"invalid":"filter"}},
{"transform":[{"filter":"datum.s==='Less stringent envelope'"}],"mark":{"type":"line","strokeWidth":1.6,"opacity":0.85,"clip":true,"invalid":"filter"}},
{"transform":[{"filter":"datum.s==='Stringent envelope'"}],"mark":{"type":"line","strokeWidth":1.5,"opacity":0.95,"clip":true,"invalid":"filter"}}
]},
{"data":{"values":[{}]},"mark":{"type":"rule","color":"#1a1a1a","strokeWidth":1.1},"encoding":{"y":{"datum":0,"type":"quantitative"}}}
]},
{"width":343,"height":381,"title":"Carbon emissions",
"layer":[
{"transform":[{"filter":"datum.p==='C'"},{"fold":["2015","2020","2025","2030","2035","2040","2050","2060","2070","2080","2090","2100"],"as":["year","v"]}],
"encoding":{
"x":{"field":"year","type":"quantitative","scale":{"domain":[2015,2097.35],"nice":false,"zero":false},"axis":{"values":[2030,2050,2070,2090],"format":"d","title":null,"domain":false,"tickSize":3,"labelPadding":3}},
"y":{"field":"v","type":"quantitative","scale":{"domain":[-31.7,67.3],"nice":false,"zero":false},"axis":null},
"color":{"field":"s","type":"nominal","scale":{"domain":["Likely below 2°C scenarios","Less stringent envelope","Stringent envelope"],"range":["#bebebe","#5f9d7e","#0a4a24"]},"legend":{"title":"Scenarios:","orient":"none","legendX":24,"legendY":419,"direction":"horizontal"}},
"detail":{"field":"id","type":"nominal"}},
"layer":[
{"transform":[{"filter":"datum.s==='Likely below 2°C scenarios'"}],"mark":{"type":"line","strokeWidth":1.8,"clip":true,"invalid":"filter"}},
{"transform":[{"filter":"datum.s==='Less stringent envelope'"}],"mark":{"type":"line","strokeWidth":1.6,"opacity":0.85,"clip":true,"invalid":"filter"}},
{"transform":[{"filter":"datum.s==='Stringent envelope'"}],"mark":{"type":"line","strokeWidth":1.5,"opacity":0.95,"clip":true,"invalid":"filter"}}
]},
{"data":{"values":[{}]},"mark":{"type":"rule","color":"#1a1a1a","strokeWidth":1.1},"encoding":{"y":{"datum":0,"type":"quantitative"}}}
]}
]
}
